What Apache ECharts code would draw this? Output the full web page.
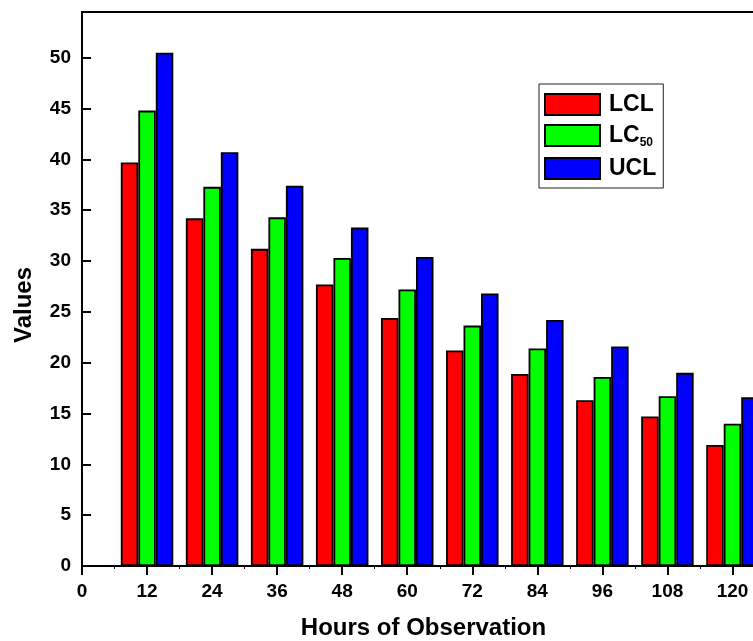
<!DOCTYPE html>
<html>
<head>
<meta charset="utf-8">
<script src="https://cdn.jsdelivr.net/npm/echarts@6/dist/echarts.min.js"></script>
<style>
  html, body { margin: 0; padding: 0; background: #fff; overflow: hidden; }
  #chart { width: 780px; height: 641px; }
</style>
</head>
<body>
<div id="chart"></div>
<script>
const hours = [12, 24, 36, 48, 60, 72, 84, 96, 108, 120];
const lcl = [39.7, 34.2, 31.2, 27.7, 24.4, 21.2, 18.9, 16.3, 14.7, 11.9];
const lc50 = [44.8, 37.3, 34.3, 30.3, 27.2, 23.65, 21.4, 18.6, 16.7, 14.0];
const ucl = [50.5, 40.7, 37.4, 33.3, 30.4, 26.8, 24.2, 21.6, 19.0, 16.6];

const font = '"Liberation Sans", Arial, sans-serif';
const chart = echarts.init(document.getElementById('chart'));

const bar = (name, values, color) => ({
  name: name,
  type: 'bar',
  barWidth: 17.5,
  barGap: '0%',
  data: hours.map((h, i) => [h, values[i]]),
  itemStyle: { color: color, borderColor: '#000', borderWidth: 1.8 }
});

chart.setOption({
  animation: false,
  textStyle: { fontFamily: font },
  grid: {
    left: 82, top: 12, width: 683, height: 554,
    show: true, borderColor: '#000', borderWidth: 2,
    outerBoundsMode: 'none'
  },
  legend: {
    orient: 'vertical',
    left: 539, top: 84,
    itemWidth: 55, itemHeight: 21, itemGap: 8,
    padding: [9, 7, 8, 5],
    borderColor: '#222', borderWidth: 1,
    icon: 'rect',
    formatter: n => n === 'LC50' ? 'LC{sub|50}' : n,
    textStyle: {
      fontSize: 23, fontWeight: 'bold', color: '#000', fontFamily: font,
      padding: [0, 0, 0, 4],
      rich: {
        sub: { fontSize: 12, fontWeight: 'bold', color: '#000', fontFamily: font,
               verticalAlign: 'top', padding: [15, 0, 0, 0] }
      }
    },
    data: ['LCL', 'LC50', 'UCL']
  },
  xAxis: {
    type: 'value', min: 0, max: 126, interval: 12,
    name: 'Hours of Observation', nameLocation: 'middle', nameGap: 50,
    nameTextStyle: { fontSize: 24, fontWeight: 'bold', color: '#000', fontFamily: font },
    axisLine: { lineStyle: { color: '#000', width: 2 } },
    axisTick: { inside: false, length: 9, lineStyle: { color: '#000', width: 2 } },
    minorTick: { show: true, splitNumber: 2, length: 3, lineStyle: { color: '#000', width: 1 } },
    axisLabel: { fontSize: 19, fontWeight: 'bold', color: '#000', margin: 16, showMaxLabel: false },
    splitLine: { show: false }
  },
  yAxis: {
    type: 'value', min: 0, max: 54.5, interval: 5,
    name: 'Values', nameLocation: 'middle', nameGap: 46,
    nameTextStyle: { fontSize: 24, fontWeight: 'bold', color: '#000', fontFamily: font, padding: [0, 32, 0, 0] },
    axisLine: { lineStyle: { color: '#000', width: 2 } },
    axisTick: { inside: true, length: 9, lineStyle: { color: '#000', width: 2 } },
    axisLabel: { fontSize: 19, fontWeight: 'bold', color: '#000', margin: 11, showMaxLabel: false },
    splitLine: { show: false }
  },
  series: [
    bar('LCL', lcl, '#ff0000'),
    bar('LC50', lc50, '#00ff00'),
    bar('UCL', ucl, '#0000ff')
  ]
});
</script>
</body>
</html>
